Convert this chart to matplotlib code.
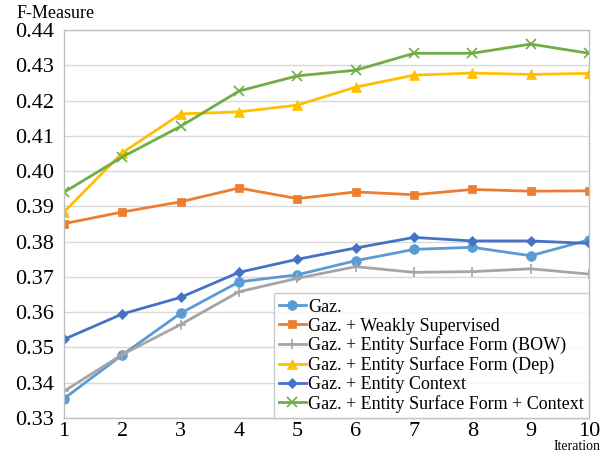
import matplotlib
matplotlib.use("Agg")
import matplotlib.pyplot as plt

iterations = [1, 2, 3, 4, 5, 6, 7, 8, 9, 10]
gaz = [0.3355, 0.3479, 0.3597, 0.3686, 0.3706, 0.3746, 0.3778, 0.3784, 0.3760, 0.3805]
weakly = [0.3851, 0.3884, 0.3913, 0.3952, 0.3922, 0.3941, 0.3933, 0.3948, 0.3943, 0.3944]
bow = [0.3376, 0.3480, 0.3565, 0.3658, 0.3696, 0.3729, 0.3713, 0.3715, 0.3723, 0.3708]
dep = [0.3884, 0.4052, 0.4162, 0.4168, 0.4187, 0.4238, 0.4272, 0.4278, 0.4274, 0.4277]
context = [0.3523, 0.3595, 0.3642, 0.3713, 0.3750, 0.3782, 0.3812, 0.3802, 0.3802, 0.3795]
surf_context = [0.3940, 0.4040, 0.4127, 0.4227, 0.4270, 0.4286, 0.4334, 0.4334, 0.4360, 0.4334]

labels = ["Gaz.", "Gaz. + Weakly Supervised", "Gaz. + Entity Surface Form (BOW)",
          "Gaz. + Entity Surface Form (Dep)", "Gaz. + Entity Context",
          "Gaz. + Entity Surface Form + Context"]
series = [gaz, weakly, bow, dep, context, surf_context]
colors = ["#5B9BD5", "#ED7D31", "#A5A5A5", "#FFC000", "#4472C4", "#70AD47"]
markers = ["o", "s", "+", "^", "D", "x"]
msizes = [7, 6, 7, 7, 5, 7]

plt.rcParams["font.family"] = ["Liberation Serif", "DejaVu Serif"]

fig = plt.figure(figsize=(6.08, 4.54), dpi=100)
ax = fig.add_axes([64 / 608, 36 / 454, 525 / 608, 388 / 454])

for vals, lab, col, mk, ms in zip(series, labels, colors, markers, msizes):
    ax.plot(iterations, vals, color=col, marker=mk, markersize=ms, linewidth=2,
            label=lab, markeredgewidth=1.2 if mk in "+x" else 0.5)

ax.set_xlim(1, 10)
ax.set_ylim(0.33, 0.44)
ax.set_xticks(iterations)
ax.set_yticks([0.33 + 0.01 * i for i in range(12)])
ax.set_yticklabels(["%.2f" % (0.33 + 0.01 * i) for i in range(12)])
ax.tick_params(axis="both", labelsize=16, length=0)
ax.tick_params(axis="x", pad=3)
ax.tick_params(axis="y", pad=7)
ax.grid(axis="y", color="#D9D9D9", linewidth=1)
ax.set_axisbelow(True)
for side in ["left", "right", "top", "bottom"]:
    ax.spines[side].set_color("#BFBFBF")
    ax.spines[side].set_linewidth(1)

fig.text(17 / 608, 1 - 13 / 454, "F-Measure", fontsize=13, va="center", ha="left")
fig.text(601 / 608, 0.5 / 454, "Iteration", fontsize=10, va="bottom", ha="right")

leg = ax.legend(loc="lower right", fontsize=13, frameon=True, fancybox=False,
                handlelength=1.5, handletextpad=0.1, labelspacing=0.1,
                borderpad=0.3, borderaxespad=0.0)
leg.get_frame().set_edgecolor("#BFBFBF")
leg.get_frame().set_linewidth(1)

fig.savefig("out.png", dpi=100)
